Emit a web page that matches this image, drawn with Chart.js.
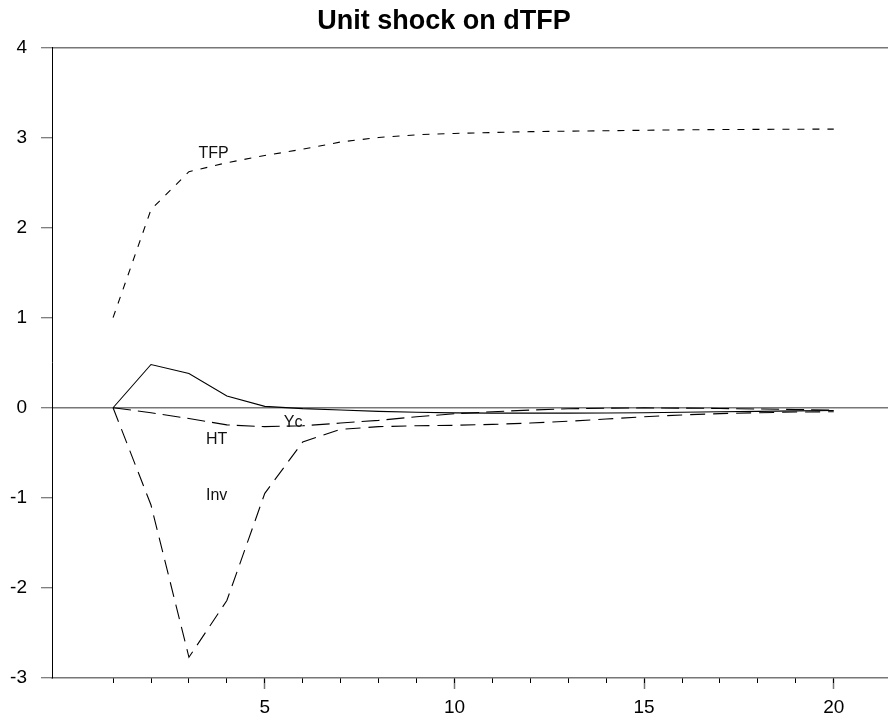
<!DOCTYPE html>
<html>
<head>
<meta charset="utf-8">
<script src="https://cdn.jsdelivr.net/npm/chart.js@4/dist/chart.umd.min.js"></script>
<style>
  html, body { margin: 0; padding: 0; background: #fff; }
</style>
</head>
<body>
<canvas id="irfChart" width="888" height="720"></canvas>
<script>
// periods after the shock
var periods = [1, 2, 3, 4, 5, 6, 7, 8, 9, 10, 11, 12, 13, 14, 15, 16, 17, 18, 19, 20];

// impulse responses
var tfp = [1.0, 2.2, 2.62, 2.72, 2.8, 2.87, 2.95, 3.0, 3.03, 3.045, 3.055, 3.065, 3.07, 3.075, 3.08, 3.085, 3.088, 3.09, 3.092, 3.093];
var yc = [0, 0.48, 0.38, 0.13, 0.015, -0.01, -0.025, -0.04, -0.05, -0.057, -0.06, -0.06, -0.06, -0.058, -0.055, -0.05, -0.045, -0.04, -0.035, -0.03];
var ht = [0, -0.055, -0.12, -0.19, -0.21, -0.2, -0.17, -0.14, -0.1, -0.067, -0.044, -0.026, -0.012, -0.005, -0.002, -0.004, -0.008, -0.014, -0.02, -0.025];
var inv = [0, -1.08, -2.77, -2.14, -0.95, -0.38, -0.24, -0.21, -0.2, -0.195, -0.185, -0.17, -0.15, -0.125, -0.1, -0.08, -0.065, -0.055, -0.048, -0.044];

var yTicks = [-3, -2, -1, 0, 1, 2, 3, 4];
var xMajorTicks = [5, 10, 15, 20];
var xMinorTicks = periods;

// series names written next to the curves, placed in data units
var seriesNames = ['TFP', 'Yc', 'HT', 'Inv'];
var nameAt = [[3.25, 2.82], [5.5, -0.17], [3.45, -0.35], [3.45, -0.98]];

var XMIN = -0.61;
var XMAX = 21.43;
var FONT = "'Liberation Sans', Arial, Helvetica, sans-serif";

function toPoints(values) {
    return values.map(function (v, i) { return { x: periods[i], y: v }; });
}

function lineSet(name, values, dash) {
    return {
        label: name,
        data: toPoints(values),
        borderColor: '#000',
        borderWidth: 1.1,
        borderDash: dash,
        pointRadius: 0,
        tension: 0,
        fill: false
    };
}

var curveNames = {
    id: 'curveNames',
    afterDatasetsDraw: function (chart) {
        var ctx = chart.ctx;
        var xs = chart.scales.x;
        var ys = chart.scales.y;
        ctx.save();
        ctx.font = '16px ' + FONT;
        ctx.fillStyle = '#111';
        ctx.textAlign = 'left';
        ctx.textBaseline = 'middle';
        seriesNames.forEach(function (name, i) {
            ctx.fillText(name, xs.getPixelForValue(nameAt[i][0]), ys.getPixelForValue(nameAt[i][1]));
        });
        ctx.restore();
    }
};

var config = {
    type: 'line',
    data: {
        datasets: [
            lineSet('TFP', tfp, [7, 8]),
            lineSet('Yc', yc, []),
            lineSet('HT', ht, [18, 7]),
            lineSet('Inv', inv, [15, 8])
        ]
    },
    options: {
        responsive: false,
        animation: false,
        layout: { padding: 0 },
        plugins: {
            legend: { display: false },
            tooltip: { enabled: false },
            title: {
                display: true,
                text: 'Unit shock on dTFP',
                color: '#000',
                font: { family: FONT, size: 27, weight: 'bold' },
                padding: { top: 5, bottom: 10 }
            }
        },
        scales: {
            x: {
                type: 'linear',
                position: 'bottom',
                min: XMIN,
                max: XMAX,
                afterBuildTicks: function (scale) {
                    scale.ticks = xMajorTicks.map(function (v) { return { value: v }; });
                },
                afterFit: function (scale) { scale.height = 42; },
                ticks: {
                    color: '#000',
                    font: { family: FONT, size: 19 },
                    padding: 7,
                    maxRotation: 0
                },
                grid: {
                    drawOnChartArea: false,
                    tickLength: 11,
                    tickColor: '#777',
                    tickWidth: 1.5
                },
                border: { color: '#777', width: 1.5 }
            },
            x2: {
                type: 'linear',
                position: { y: -3 },
                min: XMIN,
                max: XMAX,
                afterBuildTicks: function (scale) {
                    scale.ticks = xMinorTicks.map(function (v) { return { value: v }; });
                },
                ticks: { display: false },
                grid: {
                    drawOnChartArea: false,
                    tickLength: 5,
                    tickColor: '#000',
                    tickWidth: 1
                },
                border: { display: false }
            },
            y: {
                type: 'linear',
                min: -3,
                max: 4,
                afterBuildTicks: function (scale) {
                    scale.ticks = yTicks.map(function (v) { return { value: v }; });
                },
                afterFit: function (scale) { scale.width = 52; },
                ticks: {
                    color: '#000',
                    font: { family: FONT, size: 19 },
                    padding: 14
                },
                grid: {
                    color: function (c) {
                        if (c.tick && (c.tick.value === 4 || c.tick.value === 0)) return '#777';
                        return 'rgba(0,0,0,0)';
                    },
                    lineWidth: 1.5,
                    tickLength: 11,
                    tickColor: '#555',
                    tickWidth: 1
                },
                border: { color: '#000', width: 1 }
            }
        }
    },
    plugins: [curveNames]
};

var myChart = new Chart(document.getElementById('irfChart').getContext('2d'), config);
</script>
</body>
</html>
